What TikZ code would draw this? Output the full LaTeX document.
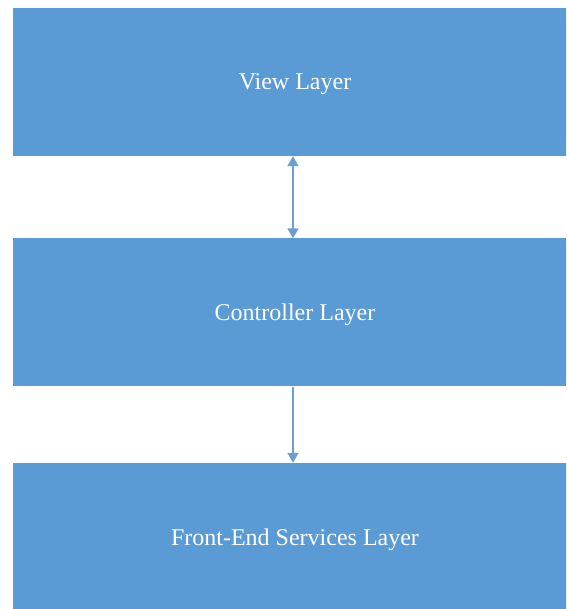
\documentclass[tikz,border=0pt]{standalone}
\usepackage{fontspec}
\setmainfont{Liberation Serif}
\usetikzlibrary{arrows.meta}
\definecolor{layerblue}{HTML}{5B9BD5}
\definecolor{linkblue}{HTML}{6A9FD6}

\begin{document}
\begin{tikzpicture}[x=1pt,y=1pt,
		layer/.style={fill=layerblue,draw=none,minimum width=564pt,minimum height=148pt,inner sep=0pt,text depth=0pt,text=white,font=\fontsize{24}{28}\selectfont},
		link/.style={draw=linkblue,line width=1.5pt,-{Triangle[width=11pt,length=10pt]}}]

		\useasboundingbox (0,0) rectangle (566,609);
		\clip (0,0) rectangle (566,609);

		\node[layer] (view) at (295,527) {View Layer};
		\node[layer] (ctrl) at (295,296.5) {Controller Layer};
		\node[layer] (serv) at (295,72) {Front-End Services Layer};

		\draw[link,{Triangle[width=11pt,length=10pt]}-{Triangle[width=11pt,length=10pt]}]
			([xshift=-2pt]view.south) -- ([xshift=-2pt]ctrl.north);
		\draw[link] ([xshift=-2pt]ctrl.south) -- ([xshift=-2pt]serv.north);

	\end{tikzpicture}
\end{document}
